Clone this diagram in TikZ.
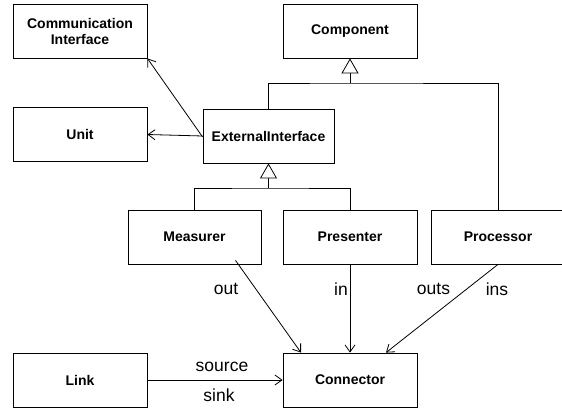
\documentclass[tikz,border=0pt]{standalone}
\usepackage{fontspec}
\setmainfont{Liberation Sans}
\usetikzlibrary{arrows.meta}

\begin{document}
\begin{tikzpicture}[x=1pt,y=-1pt,line width=0.8pt,
    umlbox/.style={draw,minimum width=134pt,minimum height=54pt,inner sep=0pt,align=center,
      font=\fontsize{14}{16}\selectfont\bfseries},
    role/.style={font=\fontsize{17.5}{20}\selectfont,inner sep=0pt},
    assoc/.style={-{Straight Barb[length=7pt,width=10pt]}},
    inherit/.style={-{Triangle[open,length=15pt,width=17pt,fill=white]}}]
  \useasboundingbox (0,0) rectangle (562,412);
  % classes
  \node[umlbox] (comint) at (80,31) {Communication\\Interface};
  \node[umlbox] (unit) at (80,134.5) {Unit};
  \node[umlbox] (comp) at (350,31) {Component};
  \node[umlbox,minimum width=131pt] (ext) at (268.5,136) {ExternalInterface};
  \node[umlbox,minimum width=133pt] (meas) at (194.5,237) {Measurer};
  \node[umlbox] (pres) at (350,237) {Presenter};
  \node[umlbox,minimum width=134pt] (proc) at (498,237) {Processor};
  \node[umlbox] (link) at (80,380) {Link};
  \node[umlbox] (conn) at (350,380) {Connector};
  % generalisation
  \coordinate (compjoin) at (350,83);
  \coordinate (extjoin) at (268.5,188);
  \draw[inherit] (compjoin) -- (comp);
  \draw (ext.north) |- (compjoin) -| (proc.north);
  \draw[inherit] (extjoin) -- (ext);
  \draw (meas.north) |- (extjoin) -| (pres.north);
  % associations
  \draw[assoc] (ext.west) -- (unit.east);
  \draw[assoc] ([yshift=-1pt]ext.west) -- (comint.south east);
  \draw[assoc] ([xshift=41pt,yshift=4pt]meas.south) -- ([xshift=-49pt]conn.north);
  \draw[assoc] (pres.south) -- (conn.north);
  \draw[assoc] (proc.south) -- ([xshift=36pt]conn.north);
  \draw[assoc] (link.east) -- (conn.west);
  % role names
  \node[role] (lout) at (226,289) {out};
  \node[role] (lin) at (341,289) {in};
  \node[role] (louts) at (433.5,289) {outs};
  \node[role] (lins) at (497,289) {ins};
  \node[role] (lsource) at (222,367) {source};
  \node[role] (lsink) at (219,395) {sink};
\end{tikzpicture}
\end{document}
